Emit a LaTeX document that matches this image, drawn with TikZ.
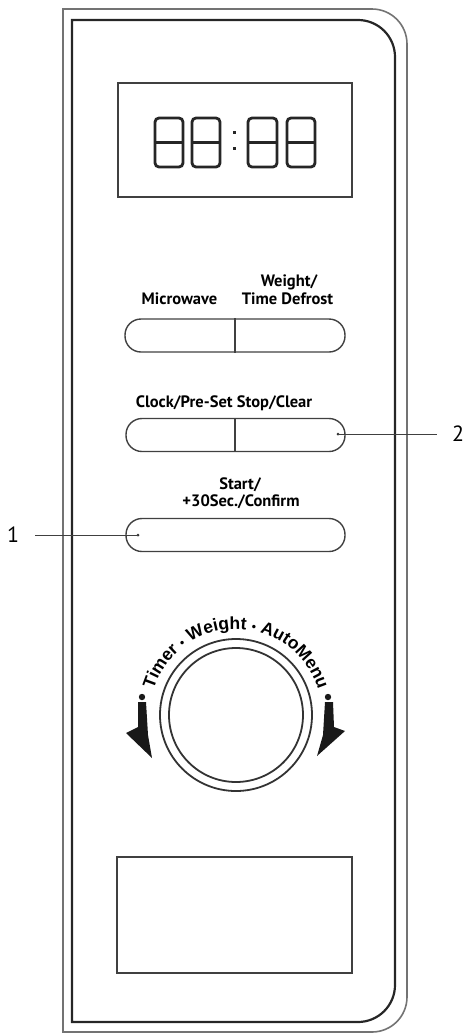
\documentclass[tikz,border=0pt]{standalone}
\usepackage{fontspec}
\setmainfont{PT Sans}
\newfontfamily\arcfont{Liberation Sans}
\usetikzlibrary{decorations.text}
\begin{document}
\begin{tikzpicture}[x=1pt,y=1pt,
  lbl/.style={font=\bfseries\fontsize{16.5}{18}\selectfont, inner sep=0},
  pill/.style={draw=black!75, line width=1.4pt, rounded corners=16pt, minimum height=33pt, inner sep=0},
  num/.style={font=\fontsize{22}{24}\selectfont, inner sep=0},
  seg/.style={draw=black!85, line width=2.8pt, rounded corners=4pt},
  frameout/.style={draw=black!55, line width=1.6pt},
  framein/.style={draw=black!85, line width=2.2pt},
  box/.style={draw=black!75, line width=1.4pt},
  pin/.style={circle, fill=black!80, inner sep=0, minimum size=3pt},
  leader/.style={draw=black!75, line width=0.9pt},
  knobline/.style={draw=black!80, line width=1.8pt},
  turn/.style={fill=black!90},
]
\useasboundingbox (0,0) rectangle (471,-1034);
% frames
\draw[frameout] (63,-9) -- (372,-9) arc[start angle=90,end angle=0,radius=35] -- (407,-997) arc[start angle=0,end angle=-90,radius=35] -- (63,-1032) -- cycle;
\draw[framein] (72,-20) -- (358,-20) arc[start angle=90,end angle=0,radius=37] -- (395,-985) arc[start angle=0,end angle=-90,radius=37] -- (72,-1022) -- cycle;
% display
\node[box, minimum width=234pt, minimum height=114pt] (disp) at (235,-140) {};
\foreach \a/\b in {155/183,192/220,248/277,287/315}{
  \draw[seg] (\a,-118) rectangle (\b,-167);
  \draw[seg] (\a,-142.5) -- (\b,-142.5);
}
\fill[black!85] (232.5,-130.5) rectangle (236,-134);
\fill[black!85] (232.5,-146.5) rectangle (236,-150);
% buttons
\node[lbl] (lmw) at (179.5,-299) {Microwave};
\node[lbl] (lwt) at (289,-282) {Weight/};
\node[lbl] (ltd) at (287.5,-299) {Time Defrost};
\node[pill, minimum width=220pt] (b1) at (235,-335.5) {};
\draw[box] (b1.north) -- (b1.south);
\node[lbl] (lcs) at (224,-403) {Clock/Pre-Set Stop/Clear};
\node[pill, minimum width=219pt] (b2) at (235.5,-435) {};
\draw[box] (235,-419) -- (235,-451);
\node[lbl] (lst) at (240,-485) {Start/};
\node[lbl] (lsc) at (241,-502) {+30Sec./Confirm};
\node[pill, minimum width=219pt] (b3) at (235.5,-535) {};
% callouts
\node[pin] (p2) at (338,-434) {};
\node[num] (n2) at (458,-434) {2};
\coordinate (e2) at (437,-434);
\draw[leader] (p2.center) -- (e2);
\node[pin] (p1) at (138,-535) {};
\node[num] (n1) at (13,-535) {1};
\coordinate (e1) at (35,-535);
\draw[leader] (e1) -- (p1.center);
% knob
\node[knobline, circle, minimum size=152pt, inner sep=0] (knob) at (236,-715) {};
\node[knobline, circle, minimum size=134pt, inner sep=0] (knobin) at (236,-715) {};
\path[decorate, decoration={text along path, text={|\arcfont\bfseries\fontsize{17.5}{18}\selectfont|Timer {\fontsize{12}{12}\selectfont•} Weight {\fontsize{12}{12}\selectfont•} AutoMenu}, text align=center}] (236,-715) ++(168:86) arc[start angle=168, end angle=12, radius=86];
% turn arrows
\fill[turn] (142,-697) circle (3.2);
\fill[turn] (138,-702) -- (146,-702) -- (148,-735) -- (152,-758) -- (126,-733) -- (138,-727) -- cycle;
\fill[turn] (328,-697) circle (3.2);
\fill[turn] (325,-702) -- (333,-702) -- (334,-727) -- (345,-731) -- (317,-756) -- (323,-735) -- cycle;
% bottom window
\node[box, minimum width=235pt, minimum height=116pt] (win) at (234.5,-915) {};
\end{tikzpicture}
\end{document}
